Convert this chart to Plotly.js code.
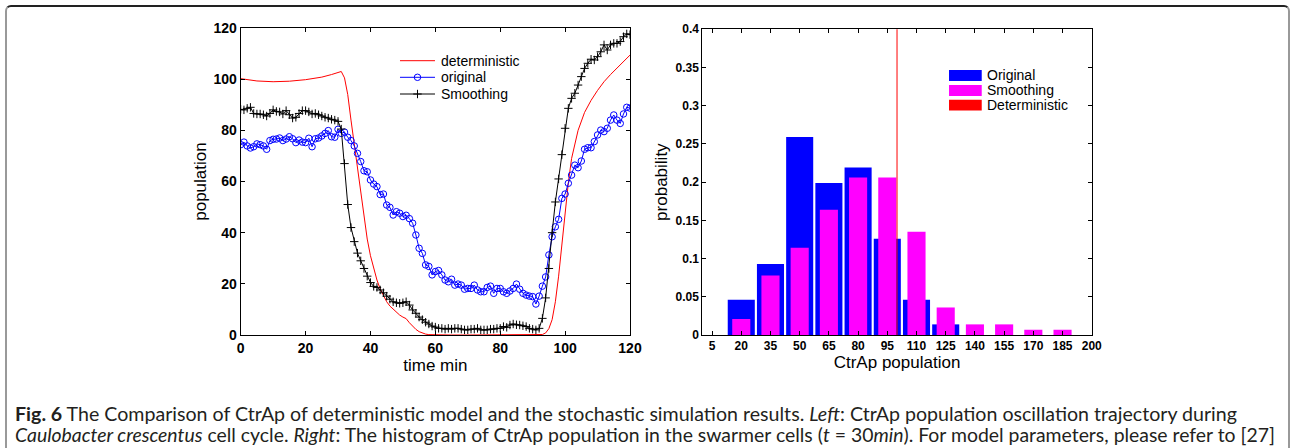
<!DOCTYPE html>
<html><head><meta charset="utf-8">
<script src="https://cdn.plot.ly/plotly-3.0.1.min.js"></script>
<style>
html,body{margin:0;padding:0;background:#fff;width:1292px;height:448px;overflow:hidden;}
#chart{position:absolute;left:0;top:0;width:1292px;height:448px;}
#frame{position:absolute;left:5px;top:5px;width:1285px;height:470px;border-top:2px solid #222;border-left:2px solid #999;border-right:2px solid #999;border-radius:6px 6px 0 0;pointer-events:none;box-sizing:border-box;}
#caption{position:absolute;left:15px;top:404px;font-family:Lato,'Open Sans',sans-serif;font-size:18.5px;line-height:20.7px;color:#231f20;white-space:nowrap;}
.cl{display:inline-block;transform-origin:0 50%;}
</style></head>
<body>
<div id="chart"></div>
<div id="frame"></div>
<div id="caption">
<span class="cl" id="cl1" data-w="1222"><b>Fig. 6</b> The Comparison of CtrAp of deterministic model and the stochastic simulation results. <i>Left</i>: CtrAp population oscillation trajectory during</span><br>
<span class="cl" id="cl2" data-w="1260"><i>Caulobacter crescentus</i> cell cycle. <i>Right</i>: The histogram of CtrAp population in the swarmer cells (<i>t</i> = 30<i>min</i>). For model parameters, please refer to [27]</span>
</div>
<script>
// ---------- Left panel: trajectories ----------
const timeMin = [0,1,2,3,4,5,6,7,8,9,10,11,12,13,14,15,16,17,18,19,20,21,22,23,24,25,26,27,28,29,30,
31,32,33,34,35,36,37,38,39,40,41,42,43,44,45,46,47,48,49,50,51,52,53,54,55,56,57,58,59,60,
61,62,63,64,65,66,67,68,69,70,71,72,73,74,75,76,77,78,79,80,81,82,83,84,85,86,87,88,89,90,
91,92,93,94,95,96,97,98,99,100,101,102,103,104,105,106,107,108,109,110,111,112,113,114,115,116,117,118,119,120];

const originalPop = [74.4,75.4,73.9,73.1,73.6,74.7,74.4,73.9,72.6,76.0,
76.5,76.6,77.0,76.0,76.6,77.5,76.7,75.2,76.2,75.4,
75.2,76.9,73.6,76.7,77.0,77.8,78.8,79.9,77.5,77.3,
80.4,78.8,79.3,77.3,76.0,73.9,71.0,67.8,64.2,63.8,
60.6,59.0,58.0,54.9,55.1,50.8,49.9,46.9,48.2,47.6,
46.3,46.8,45.5,43.7,39.1,33.9,31.9,27.4,26.8,23.5,
24.8,25.2,23.5,21.5,20.8,21.8,19.5,19.9,19.5,17.9,
18.2,18.2,19.5,17.6,16.9,16.9,18.6,19.1,16.3,18.2,
18.2,16.9,16.3,17.2,18.2,19.9,17.9,16.3,15.6,15.2,
15.0,12.1,15.2,19.1,22.7,31.3,38.4,42.3,45.2,53.4,
55.1,59.3,62.5,66.4,65.4,68.0,72.6,73.2,73.2,75.6,
78.2,80.1,79.5,80.8,84.0,86.0,84.0,82.7,86.4,89.0,88.7];

const smoothingPop = [88.2,88.0,88.6,89.0,86.6,86.4,86.4,86.1,85.6,86.6,
88.0,87.4,87.2,86.4,87.7,86.1,84.8,85.1,86.6,87.7,
87.7,87.2,86.4,86.6,86.1,85.6,85.1,84.8,84.3,84.0,83.5,
80.5,67.0,51.0,42.0,36.5,32.0,29.0,26.0,23.0,20.5,
19.0,18.6,17.6,16.5,15.2,14.0,13.0,12.6,12.4,12.6,
13.0,11.7,9.8,8.5,7.0,6.0,5.0,4.3,3.5,3.1,
2.6,2.6,2.3,2.6,2.3,2.6,2.6,2.3,2.0,2.0,
2.3,2.3,2.6,2.0,2.0,2.0,2.3,2.3,2.6,2.6,
3.3,3.0,3.9,4.3,4.0,3.9,3.6,3.3,2.6,2.3,
2.0,2.6,6.5,14.5,26.0,40.0,52.0,61.0,70.5,80.8,
88.6,92.5,94.5,97.7,101.0,104.2,106.2,107.8,107.5,108.8,
110.7,113.4,111.4,113.4,114.0,114.0,114.7,116.6,117.7,117.4];

const detTime = [0,5,10,15,20,25,28,30,31,32,33,34,35,36,37,38,39,40,41,42,43,44,45,46,47,48,49,50,51,52,53,54,55,56,57,58,
60,65,70,80,90,92,93,94,95,96,97,98,99,100,101,102,103,104,106,108,110,112,114,116,118,120];
const detPop = [100.2,99.3,99.0,99.2,99.8,100.8,101.8,102.6,103.0,100.5,94.0,84.0,74.5,65.0,55.5,46.0,37.5,31.0,26.0,21.5,18.0,15.2,13.0,11.3,10.0,8.8,7.8,7.0,6.4,4.8,3.3,2.2,1.3,0.7,0.35,0.15,
0.05,0,0,0,0,0.05,0.2,0.8,2.5,6.0,13.0,23.0,36.0,48.5,59.5,69.0,75.0,80.0,87.0,91.7,95.6,99.0,101.8,104.4,106.9,109.4];

const leftLegendNames = ['deterministic','original','Smoothing'];
const leftTicks = [0,20,40,60,80,100,120];

// ---------- Right panel: histogram ----------
const popBins = [5,20,35,50,65,80,95,110,125,140,155,170,185,200];
const probOriginal  = [0,0.046,0.093,0.259,0.199,0.219,0.126,0.046,0.0139,0,0,0,0,0];
const probSmoothing = [0,0.021,0.078,0.114,0.164,0.206,0.206,0.135,0.036,0.0139,0.0139,0.007,0.007,0];
const deterministicAt30 = 100;
const probTicks  = [0,0.05,0.1,0.15,0.2,0.25,0.3,0.35,0.4];
const probLabels = ['0','0.05','0.1','0.15','0.2','0.25','0.3','0.35','0.4'];
const rightLegendNames = ['Original','Smoothing','Deterministic'];
const rightLegendColors = ['#0000ff','#ff00ff','#ff0000'];

const FONT = 'Liberation Sans, Arial, Helvetica, sans-serif';
const tickFontL = {family: FONT, size: 14, color: '#000', weight: 'bold'};
const tickFontR = {family: FONT, size: 12, color: '#000', weight: 'bold'};
const titleFont = {family: FONT, size: 17, color: '#000'};

function axisBase(extra){
  return Object.assign({
    showline: true, linecolor: '#000', linewidth: 1, mirror: 'ticks',
    ticks: 'inside', ticklen: 4, tickwidth: 1, tickcolor: '#000',
    showgrid: false, zeroline: false, automargin: false
  }, extra);
}

// legend sample styles (left panel), same as the series they stand for
const seriesStyle = [
  {line: {color: '#ff0000', width: 1}, marker: null},
  {line: {color: '#0000ff', width: 1}, marker: {symbol: 'circle-open', size: 6.5, color: '#0000ff', line: {width: 1, color: '#0000ff'}}},
  {line: {color: '#000000', width: 1}, marker: {symbol: 'cross-thin-open', size: 6, color: '#000', line: {width: 1, color: '#000'}}}
];

const traces = [
  {x: detTime, y: detPop, name: leftLegendNames[0], type: 'scatter', mode: 'lines',
   line: seriesStyle[0].line, xaxis: 'x', yaxis: 'y', showlegend: false},
  {x: timeMin, y: originalPop, name: leftLegendNames[1], type: 'scatter', mode: 'lines+markers',
   line: seriesStyle[1].line, marker: seriesStyle[1].marker, xaxis: 'x', yaxis: 'y', showlegend: false},
  {x: timeMin, y: smoothingPop, name: leftLegendNames[2], type: 'scatter', mode: 'lines+markers',
   line: seriesStyle[2].line, marker: seriesStyle[2].marker, xaxis: 'x', yaxis: 'y', showlegend: false},
  {x: popBins, y: probOriginal, name: rightLegendNames[0], type: 'bar', width: 13.9,
   marker: {color: '#0000ff', line: {width: 0}}, showlegend: false, xaxis: 'x2', yaxis: 'y2'},
  {x: popBins, y: probSmoothing, name: rightLegendNames[1], type: 'bar', width: 9.3,
   marker: {color: '#ff00ff', line: {width: 0}}, showlegend: false, xaxis: 'x2', yaxis: 'y2'}
];

const shapes = [
  {type: 'line', xref: 'x2', yref: 'y2 domain', x0: deterministicAt30, x1: deterministicAt30, y0: 0, y1: 1,
   line: {color: '#ff0000', width: 1}}
];
const annotations = [];

// left legend (drawn as a MATLAB-style key)
const legLx0 = 0.4092, legLx1 = 0.4991, legLtext = 0.5094;
const legLrows = [0.8935, 0.8394, 0.7850];
leftLegendNames.forEach((nm, i) => {
  shapes.push({type: 'line', xref: 'x domain', yref: 'y domain', x0: legLx0, x1: legLx1,
    y0: legLrows[i], y1: legLrows[i], line: seriesStyle[i].line});
  if (seriesStyle[i].marker) {
    traces.push({x: [(legLx0 + legLx1) / 2], y: [legLrows[i]], type: 'scatter', mode: 'markers',
      marker: seriesStyle[i].marker, xaxis: 'x3', yaxis: 'y3', showlegend: false, hoverinfo: 'skip'});
  }
  annotations.push({xref: 'x domain', yref: 'y domain', x: legLtext, y: legLrows[i],
    xanchor: 'left', yanchor: 'middle', text: nm, showarrow: false,
    font: {family: FONT, size: 14, color: '#000'}});
});

// right legend
const patchY = [[0.831,0.867],[0.782,0.818],[0.734,0.769]];
rightLegendNames.forEach((nm, i) => {
  shapes.push({type: 'rect', xref: 'x2 domain', yref: 'y2 domain', x0: 0.6335, x1: 0.7175,
    y0: patchY[i][0], y1: patchY[i][1], fillcolor: rightLegendColors[i], line: {width: 0}});
  annotations.push({xref: 'x2 domain', yref: 'y2 domain', x: 0.7255, y: (patchY[i][0]+patchY[i][1])/2,
    xanchor: 'left', yanchor: 'middle', text: nm, showarrow: false,
    font: {family: FONT, size: 14, color: '#000'}});
});

const layout = {
  width: 1292, height: 448,
  margin: {l: 0, r: 0, t: 28, b: 113, pad: 0},
  paper_bgcolor: '#fff', plot_bgcolor: 'rgba(0,0,0,0)',
  font: {family: FONT, color: '#000'},
  showlegend: false,
  barmode: 'overlay',
  xaxis: axisBase({domain: [0.1863, 0.4876], range: [0, 120], tickvals: leftTicks, anchor: 'y', tickfont: tickFontL,
    title: {text: 'time min', font: titleFont, standoff: 0}}),
  yaxis: axisBase({domain: [0, 1], range: [0, 120], tickvals: leftTicks, anchor: 'x', tickfont: tickFontL,
    title: {text: 'population', font: titleFont, standoff: 2}}),
  xaxis2: axisBase({domain: [0.5436, 0.8450], range: [0, 200], tickvals: popBins, anchor: 'y2', tickfont: tickFontR,
    title: {text: 'CtrAp population', font: titleFont, standoff: 0}}),
  yaxis2: axisBase({domain: [0, 0.996], range: [0, 0.4], tickvals: probTicks, ticktext: probLabels, anchor: 'x2', tickfont: tickFontR,
    title: {text: 'probability', font: titleFont, standoff: 3}}),
  xaxis3: {domain: [0.1863, 0.4876], range: [0, 1], visible: false, anchor: 'y3', overlaying: 'x', fixedrange: true},
  yaxis3: {domain: [0, 1], range: [0, 1], visible: false, anchor: 'x3', overlaying: 'y', fixedrange: true},
  shapes: shapes,
  annotations: annotations
};

Plotly.newPlot('chart', traces, layout, {staticPlot: true, displayModeBar: false});

function fitCaption(){
  document.querySelectorAll('.cl').forEach(el => {
    el.style.transform = 'none';
    const w = el.getBoundingClientRect().width;
    const target = parseFloat(el.dataset.w);
    if (w > 0) el.style.transform = 'scaleX(' + (target / w).toFixed(4) + ')';
  });
}
if (document.fonts && document.fonts.ready) { document.fonts.ready.then(fitCaption); } else { fitCaption(); }
fitCaption();
</script>
</body></html>
